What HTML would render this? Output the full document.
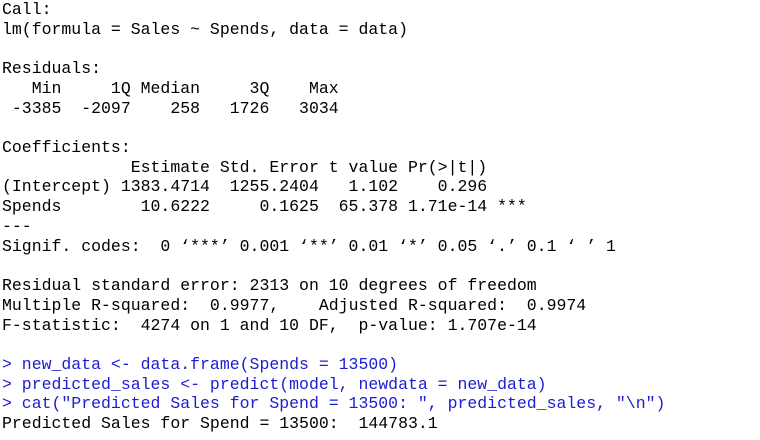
<!DOCTYPE html>
<html><head><meta charset="utf-8"><style>
html,body{margin:0;padding:0;background:#fff;width:760px;height:440px;overflow:hidden}
pre{margin:0;position:absolute;left:2px;top:0px;font-family:"Liberation Mono",monospace;font-size:16.5px;line-height:19.72px;color:#000;white-space:pre}
.cmd{color:#1c1cd0}
</style></head><body>
<pre><span>Call:</span>
<span>lm(formula = Sales ~ Spends, data = data)</span>

<span>Residuals:
   Min     1Q Median     3Q    Max 
 -3385  -2097    258   1726   3034 </span>

<span>Coefficients:
             Estimate Std. Error t value Pr(&gt;|t|)    
(Intercept) 1383.4714  1255.2404   1.102    0.296    
Spends        10.6222     0.1625  65.378 1.71e-14 ***
---
Signif. codes:  0 ‘***’ 0.001 ‘**’ 0.01 ‘*’ 0.05 ‘.’ 0.1 ‘ ’ 1</span>

<span>Residual standard error: 2313 on 10 degrees of freedom
Multiple R-squared:  0.9977,	Adjusted R-squared:  0.9974 
F-statistic:  4274 on 1 and 10 DF,  p-value: 1.707e-14</span>

<span class="cmd">&gt; new_data &lt;- data.frame(Spends = 13500)</span>
<span class="cmd">&gt; predicted_sales &lt;- predict(model, newdata = new_data)</span>
<span class="cmd">&gt; cat("Predicted Sales for Spend = 13500: ", predicted_sales, "\n")</span>
<span>Predicted Sales for Spend = 13500:  144783.1</span></pre>
</body></html>
